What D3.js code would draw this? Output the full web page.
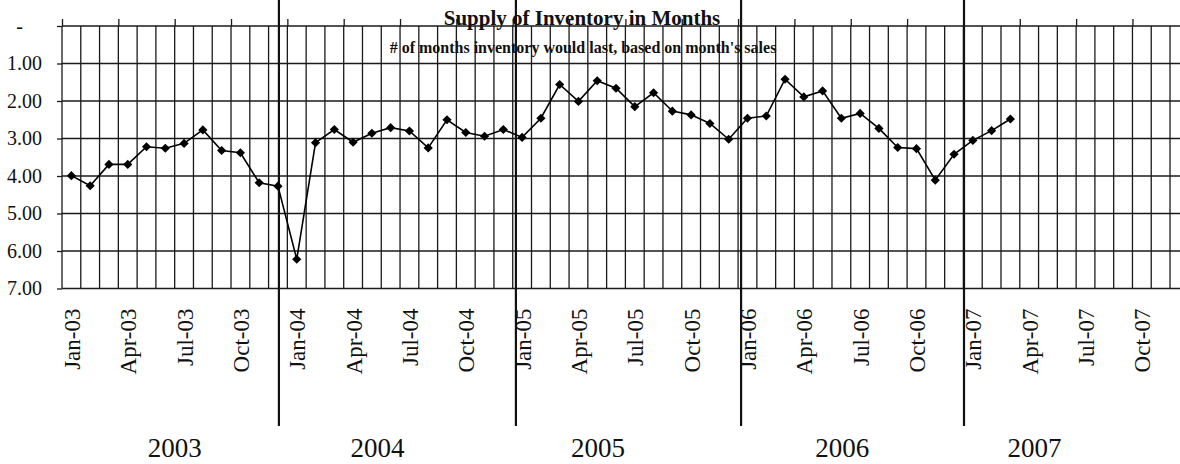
<!DOCTYPE html>
<html>
<head>
<meta charset="utf-8">
<script src="https://cdn.jsdelivr.net/npm/d3@7"></script>
<style>
  html, body { margin: 0; padding: 0; background: #fff; }
  svg { display: block; font-family: "Liberation Serif", "Times New Roman", serif; }
</style>
</head>
<body>
<svg id="chart" width="1180" height="464"></svg>
<script>
// ---- data ----
const monthAbbr = ["Jan","Feb","Mar","Apr","May","Jun","Jul","Aug","Sep","Oct","Nov","Dec"];
const yearSuffix = ["03","04","05","06","07"];
const categories = yearSuffix.flatMap(y => monthAbbr.map(m => m + "-" + y));
const supplyMonths = [
  3.99, 4.26, 3.69, 3.69, 3.22, 3.26, 3.13, 2.77, 3.32, 3.38, 4.18, 4.27,
  6.22, 3.11, 2.76, 3.10, 2.86, 2.71, 2.80, 3.25, 2.50, 2.84, 2.94, 2.76,
  2.97, 2.46, 1.56, 2.01, 1.46, 1.66, 2.15, 1.78, 2.27, 2.37, 2.60, 3.02,
  2.46, 2.40, 1.42, 1.89, 1.73, 2.46, 2.33, 2.73, 3.24, 3.27, 4.11, 3.42,
  3.05, 2.79, 2.48
];
const yTicks = [0, 1, 2, 3, 4, 5, 6, 7];
const yTickLabels = ["-", "1.00", "2.00", "3.00", "4.00", "5.00", "6.00", "7.00"];
const yearLabels = ["2003", "2004", "2005", "2006", "2007"];
const yearLabelAt = [6, 16.8, 28.54, 41.55, 51.78];   // position in months
const yearSeparatorAt = [11.55, 24.17, 36.16, 48.03]; // position in months
const titleText = "Supply of Inventory in Months";
const subtitleText = "# of months inventory would last, based on month's sales";

// ---- layout ----
const svg = d3.select("#chart");
const plotLeft = 62, monthW = 18.78, plotTop = 26, plotBottom = 288.5;
const x = d3.scaleLinear().domain([0, categories.length]).range([plotLeft, plotLeft + categories.length * monthW]);
const y = d3.scaleLinear().domain([0, 7]).range([plotTop, plotBottom]);
const ink = "#1a1a1a";

// horizontal gridlines
svg.append("g").selectAll("line").data(yTicks).join("line")
  .attr("x1", x(0)).attr("x2", x(categories.length))
  .attr("y1", d => y(d)).attr("y2", d => y(d))
  .attr("stroke", ink).attr("stroke-width", 1.3);

// vertical gridlines at month boundaries
svg.append("g").selectAll("line").data(d3.range(categories.length + 1)).join("line")
  .attr("x1", d => x(d)).attr("x2", d => x(d))
  .attr("y1", y(0)).attr("y2", y(7))
  .attr("stroke", ink).attr("stroke-width", 1.3);

// top axis ticks (quarterly)
const topAxis = svg.append("g").attr("transform", `translate(0,${y(0)})`)
  .call(d3.axisTop(x).tickValues(d3.range(0, categories.length + 1, 3)).tickSize(7).tickFormat(""));
topAxis.select(".domain").remove();
topAxis.selectAll("line").attr("stroke", ink).attr("stroke-width", 1.3);

// y axis
const yAxis = svg.append("g").attr("transform", `translate(${plotLeft},0)`)
  .call(d3.axisLeft(y).tickValues(yTicks).tickSize(5).tickPadding(15)
    .tickFormat((d, i) => yTickLabels[i]));
yAxis.select(".domain").remove();
yAxis.selectAll("line").attr("stroke", ink).attr("stroke-width", 1.3);
yAxis.selectAll("text")
  .attr("font-family", "Liberation Serif").attr("font-size", 20).attr("fill", "#111")
  .attr("dx", d => d === 0 ? -19 : 0);

// x axis labels (bottom, rotated)
const labeled = d3.range(categories.length).filter(i => i % 3 === 0);
const xAxis = svg.append("g").attr("transform", `translate(0,${y(7)})`)
  .call(d3.axisBottom(x).tickValues(labeled.map(i => i + 0.5)).tickSize(0)
    .tickFormat(d => categories[Math.round(d - 0.5)]));
xAxis.select(".domain").remove();
xAxis.selectAll("text")
  .attr("font-family", "Liberation Serif").attr("font-size", 23).attr("fill", "#111")
  .attr("text-anchor", "end")
  .attr("transform", "rotate(-90)")
  .attr("x", -20).attr("y", 0).attr("dy", "0.35em");

// year separators
svg.append("g").selectAll("line").data(yearSeparatorAt).join("line")
  .attr("x1", d => x(d)).attr("x2", d => x(d))
  .attr("y1", 0).attr("y2", 426)
  .attr("stroke", "#111").attr("stroke-width", 2.2);

// year labels
svg.append("g").selectAll("text").data(yearLabels).join("text")
  .attr("x", (d, i) => x(yearLabelAt[i])).attr("y", 457)
  .attr("text-anchor", "middle")
  .attr("font-size", 27).attr("fill", "#111")
  .text(d => d);

// data line
const line = d3.line().x((d, i) => x(i + 0.5)).y(d => y(d));
svg.append("path").datum(supplyMonths)
  .attr("d", line).attr("fill", "none")
  .attr("stroke", "#000").attr("stroke-width", 1.6);

// diamond markers
const r = 4.6;
svg.append("g").selectAll("path").data(supplyMonths).join("path")
  .attr("transform", (d, i) => `translate(${x(i + 0.5)},${y(d)})`)
  .attr("d", `M0,${-r}L${r},0L0,${r}L${-r},0Z`)
  .attr("fill", "#000");

// titles
svg.append("text").attr("x", 582).attr("y", 25)
  .attr("text-anchor", "middle").attr("font-weight", "bold").attr("font-size", 21)
  .attr("fill", "#111").text(titleText);
svg.append("text").attr("x", 583).attr("y", 53)
  .attr("text-anchor", "middle").attr("font-weight", "bold").attr("font-size", 16)
  .attr("fill", "#111").text(subtitleText);
</script>
</body>
</html>
